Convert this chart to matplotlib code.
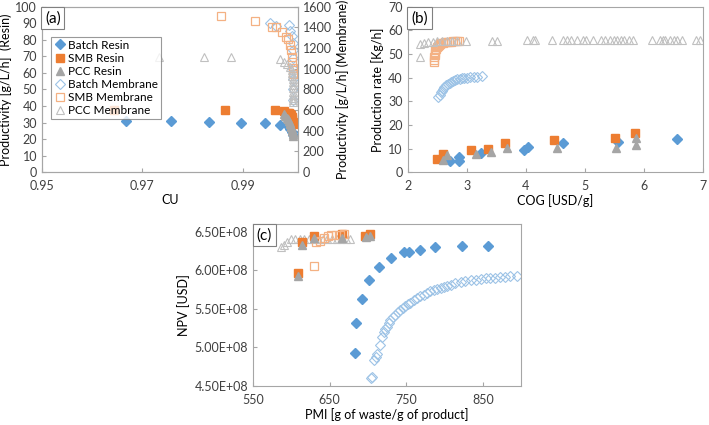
import numpy as np
import matplotlib.pyplot as plt
from matplotlib.ticker import FormatStrFormatter

plt.rcParams['font.family'] = ['Lato', 'DejaVu Sans']
plt.rcParams['font.size'] = 8

BLUE = '#5b9bd5'
ORANGE = '#ed7d31'
GRAY = '#a5a5a5'
LBLUE = '#9dc3e6'
LORANGE = '#f4b183'
LGRAY = '#c0c0c0'
EDGE = '#a6a6a6'

# ---- (a) CU vs productivity ----
a_batch_resin_x = [0.96675, 0.97564, 0.98336, 0.9896, 0.99439, 0.99752, 0.99897, 0.9995, 0.9998, 1.0]
a_batch_resin_y = [31.2, 30.8, 30.4, 29.8, 29.6, 28.8, 27.8, 26.0, 24.0, 22.5]
a_smb_resin_x = [0.96436, 0.98641, 0.99638, 0.99825, 0.9990, 0.9993, 0.9995, 0.9997, 0.9998, 0.9999, 1.0, 1.0]
a_smb_resin_y = [37.7, 37.3, 37.3, 36.7, 36.0, 35.5, 35.0, 34.5, 33.5, 32.0, 30.5, 29.0]
a_pcc_resin_x = [0.9982, 0.9985, 0.9988, 0.9990, 0.9992, 0.9994, 0.9995, 0.9996, 0.9997, 0.9998,
                 0.9999, 0.99995, 1.0, 1.0]
a_pcc_resin_y = [35, 34, 33, 32, 31, 30, 29, 28, 27, 26, 25, 24, 23, 22]
a_batch_mem_x = [0.99539, 0.99672, 0.99925, 0.99951, 0.99991, 1.0, 1.0, 1.0, 1.0, 1.0, 1.0, 1.0]
a_batch_mem_y = [1442, 1416, 1422, 1367, 1322, 1250, 1180, 1100, 1000, 900, 800, 700]
a_smb_mem_x = [0.98569, 0.99239, 0.99592, 0.99658, 0.99786, 0.99872, 0.99898, 0.99938, 0.99966,
               0.99986, 0.99992, 0.99996, 1.0]
a_smb_mem_y = [1510, 1461, 1406, 1400, 1352, 1303, 1284, 1235, 1181, 1116, 1068, 1003, 950]
a_pcc_mem_x = [0.97339, 0.9823, 0.98761, 0.99738, 0.99818, 0.99885, 0.99937, 0.9998, 0.9999,
               0.9999, 1.0, 1.0, 1.0, 1.0, 1.0, 1.0, 1.0, 1.0, 1.0]
a_pcc_mem_y = [1110, 1110, 1110, 1094, 1065, 1042, 1019, 990, 960, 930, 900, 870, 840, 810, 780,
               750, 720, 700, 680]

# ---- (b) COG vs production rate ----
b_batch_resin_x = [2.72, 2.87, 2.87, 3.24, 3.97, 4.03, 4.63, 5.55, 6.55]
b_batch_resin_y = [4.7, 6.5, 4.7, 8.2, 9.3, 10.5, 12.2, 12.9, 14.1]
b_smb_resin_x = [2.49, 2.59, 3.07, 3.36, 3.64, 4.48, 5.50, 5.85]
b_smb_resin_y = [5.4, 7.6, 9.3, 9.6, 12.4, 13.6, 14.3, 16.7]
b_pcc_resin_x = [2.60, 2.66, 3.15, 3.41, 3.68, 4.53, 5.53, 5.86, 5.86]
b_pcc_resin_y = [5.1, 7.1, 7.6, 8.6, 10.4, 10.4, 10.4, 11.3, 14.4]
b_batch_mem_x = [2.52, 2.54, 2.56, 2.58, 2.60, 2.62, 2.65, 2.68, 2.71, 2.74, 2.77, 2.80, 2.84,
                 2.88, 2.92, 2.96, 3.01, 3.06, 3.12, 3.18, 3.25]
b_batch_mem_y = [31.7, 32.8, 33.8, 34.5, 35.3, 36.0, 36.8, 37.4, 37.9, 38.3, 38.7, 39.0, 39.3,
                 39.5, 39.7, 39.9, 40.0, 40.2, 40.3, 40.4, 40.5]
b_smb_mem_x = [2.45, 2.45, 2.45, 2.46, 2.46, 2.47, 2.48, 2.49, 2.51, 2.53, 2.55, 2.57, 2.60,
               2.63, 2.66, 2.70, 2.73, 2.76, 2.80, 2.83, 2.86]
b_smb_mem_y = [46.5, 47.6, 48.6, 49.6, 50.6, 51.5, 52.2, 52.8, 53.3, 53.8, 54.2, 54.5, 54.8,
               55.0, 55.1, 55.2, 55.3, 55.4, 55.4, 55.5, 55.5]
b_pcc_mem_x = [2.20, 2.21, 2.28, 2.35, 2.42, 2.50, 2.58, 2.66, 2.75, 2.83, 2.98, 3.42, 3.51,
               4.02, 4.12, 4.16, 4.44, 4.62, 4.69, 4.77, 4.86, 4.96, 5.01, 5.13, 5.27, 5.34,
               5.42, 5.49, 5.54, 5.60, 5.66, 5.74, 5.81, 6.14, 6.27, 6.32, 6.36, 6.44, 6.50,
               6.56, 6.64, 6.88, 6.95]
b_pcc_mem_y = [48.7, 54.3, 54.8, 55.1, 55.3, 55.4, 55.5, 55.6, 55.6, 55.6, 55.7, 55.7, 55.7,
               55.8, 55.8, 55.8, 55.8, 55.8, 55.8, 55.8, 55.8, 55.8, 55.8, 55.8, 55.8, 55.8,
               55.8, 55.8, 55.8, 55.8, 55.8, 55.8, 55.8, 55.9, 55.9, 55.9, 55.9, 55.9, 55.9,
               55.9, 55.9, 55.9, 55.9]

# ---- (c) PMI vs NPV ----
c_batch_resin_x = [682.7, 684.9, 692.3, 701.9, 715.0, 729.8, 747.6, 753.3, 767.3, 787.3, 822.2, 857.0]
c_batch_resin_y = [4.925e8, 5.314e8, 5.63e8, 5.868e8, 6.045e8, 6.162e8, 6.231e8, 6.236e8,
                   6.262e8, 6.30e8, 6.314e8, 6.314e8]
c_smb_resin_x = [608.7, 614, 629, 666, 695.8, 703]
c_smb_resin_y = [5.97e8, 6.37e8, 6.44e8, 6.47e8, 6.45e8, 6.47e8]
c_pcc_resin_x = [608.0, 614, 629, 666, 697, 703]
c_pcc_resin_y = [5.93e8, 6.33e8, 6.42e8, 6.42e8, 6.43e8, 6.45e8]
c_batch_mem_x = [704.5, 705.0, 707.6, 710.0, 712.0, 715.4, 718.5, 720.6, 722.5, 725.0, 727.0,
                 729.3, 732.5, 735.9, 739.0, 742.4, 745.5, 749.0, 752.0, 755.5, 760.0, 764.2,
                 768.5, 772.9, 777.0, 781.6, 786.0, 790.4, 795.0, 799.0, 803.5, 807.8, 814.0,
                 820.9, 827.0, 834.0, 840.5, 847.0, 853.5, 860.0, 866.5, 873.0, 879.5, 886.0, 895.0]
c_batch_mem_y = [4.60e8, 4.61e8, 4.84e8, 4.88e8, 4.92e8, 5.03e8, 5.14e8, 5.205e8, 5.24e8,
                 5.27e8, 5.31e8, 5.357e8, 5.39e8, 5.42e8, 5.455e8, 5.487e8, 5.515e8, 5.54e8,
                 5.56e8, 5.58e8, 5.61e8, 5.64e8, 5.66e8, 5.68e8, 5.70e8, 5.725e8, 5.74e8,
                 5.755e8, 5.77e8, 5.78e8, 5.795e8, 5.81e8, 5.83e8, 5.85e8, 5.86e8, 5.87e8,
                 5.878e8, 5.885e8, 5.893e8, 5.90e8, 5.905e8, 5.91e8, 5.915e8, 5.92e8, 5.93e8]
c_smb_mem_x = [630, 632, 637, 642, 648, 652, 658, 664, 669]
c_smb_mem_y = [6.06e8, 6.36e8, 6.38e8, 6.42e8, 6.44e8, 6.46e8, 6.46e8, 6.46e8, 6.47e8]
c_pcc_mem_x = [586.5, 589.9, 594.3, 599.5, 605, 611, 617, 623, 629, 635, 641, 647, 653, 659,
               665, 671, 677]
c_pcc_mem_y = [6.30e8, 6.33e8, 6.36e8, 6.40e8, 6.40e8, 6.40e8, 6.40e8, 6.40e8, 6.40e8, 6.40e8,
               6.40e8, 6.40e8, 6.40e8, 6.40e8, 6.40e8, 6.40e8, 6.40e8]


def style(ax):
    for s in ax.spines.values():
        s.set_color(EDGE)
        s.set_linewidth(0.8)
    ax.tick_params(direction='in', length=3, color=EDGE, labelsize=9, labelcolor='#404040')
    ax.tick_params(axis='x', pad=6)


def resin(ax, x, y, kind, **kw):
    if kind == 'batch':
        return ax.plot(x, y, 'D', ms=5, color=BLUE, mec=BLUE, ls='none', **kw)[0]
    if kind == 'smb':
        return ax.plot(x, y, 's', ms=6, color=ORANGE, mec=ORANGE, ls='none', **kw)[0]
    return ax.plot(x, y, '^', ms=6, color=GRAY, mec=GRAY, ls='none', **kw)[0]


def membrane(ax, x, y, kind, **kw):
    if kind == 'batch':
        return ax.plot(x, y, 'D', ms=5, mfc='none', mec=LBLUE, mew=0.8, ls='none', **kw)[0]
    if kind == 'smb':
        return ax.plot(x, y, 's', ms=6, mfc='none', mec=LORANGE, mew=0.9, ls='none', **kw)[0]
    return ax.plot(x, y, '^', ms=6, mfc='none', mec=LGRAY, mew=0.8, ls='none', **kw)[0]


def panel_tag(ax, txt):
    ax.text(0.012, 0.975, txt, transform=ax.transAxes, ha='left', va='top', fontsize=11,
            bbox=dict(boxstyle='square,pad=0.25', fc='white', ec='#808080', lw=0.8), zorder=10)


fig = plt.figure(figsize=(7.09, 4.25), dpi=100)

# (a)
axa = fig.add_axes([0.059, 0.595, 0.361, 0.389])
axa2 = axa.twinx()
h1 = resin(axa, a_batch_resin_x, a_batch_resin_y, 'batch', label='Batch Resin')
h2 = resin(axa, a_smb_resin_x, a_smb_resin_y, 'smb', label='SMB Resin')
h3 = resin(axa, a_pcc_resin_x, a_pcc_resin_y, 'pcc', label='PCC Resin')
h4 = membrane(axa2, a_batch_mem_x, a_batch_mem_y, 'batch', label='Batch Membrane')
h5 = membrane(axa2, a_smb_mem_x, a_smb_mem_y, 'smb', label='SMB Membrane')
h6 = membrane(axa2, a_pcc_mem_x, a_pcc_mem_y, 'pcc', label='PCC Membrane')
axa.set_xlim(0.95, 1.001)
axa.set_xticks([0.95, 0.97, 0.99])
axa.set_ylim(0, 100)
axa.set_yticks(np.arange(0, 101, 10))
axa2.set_ylim(0, 1600)
axa2.set_yticks(np.arange(0, 1601, 200))
axa.set_xlabel('CU', fontsize=9, labelpad=1)
axa.set_ylabel('Productivity [g/L/h]  (Resin)', fontsize=9, labelpad=2)
axa2.set_ylabel('Productivity [g/L/h] (Membrane)', fontsize=9, labelpad=3)
style(axa)
style(axa2)
axa.set_zorder(axa2.get_zorder() + 1)
axa.patch.set_visible(False)
leg = axa.legend(handles=[h1, h2, h3, h4, h5, h6], loc='upper left', bbox_to_anchor=(0.035, 0.82),
                 fontsize=8.5, frameon=True, fancybox=False, edgecolor='#808080',
                 handletextpad=0.2, borderpad=0.25, labelspacing=0.18, handlelength=1.0,
                 borderaxespad=0)
leg.get_frame().set_linewidth(0.8)
panel_tag(axa, '(a)')

# (b)
axb = fig.add_axes([0.575, 0.595, 0.417, 0.389])
resin(axb, b_batch_resin_x, b_batch_resin_y, 'batch')
resin(axb, b_smb_resin_x, b_smb_resin_y, 'smb')
resin(axb, b_pcc_resin_x, b_pcc_resin_y, 'pcc')
membrane(axb, b_batch_mem_x, b_batch_mem_y, 'batch')
membrane(axb, b_smb_mem_x, b_smb_mem_y, 'smb')
membrane(axb, b_pcc_mem_x, b_pcc_mem_y, 'pcc')
axb.set_xlim(2, 7)
axb.set_ylim(0, 70)
axb.set_yticks(np.arange(0, 71, 10))
axb.set_xlabel('COG [USD/g]', fontsize=9, labelpad=1)
axb.set_ylabel('Production rate [Kg/h]', fontsize=9, labelpad=3)
style(axb)
panel_tag(axb, '(b)')

# (c)
axc = fig.add_axes([0.357, 0.092, 0.378, 0.381])
membrane(axc, c_batch_mem_x, c_batch_mem_y, 'batch')
membrane(axc, c_pcc_mem_x, c_pcc_mem_y, 'pcc')
resin(axc, c_batch_resin_x, c_batch_resin_y, 'batch')
resin(axc, c_smb_resin_x, c_smb_resin_y, 'smb')
resin(axc, c_pcc_resin_x, c_pcc_resin_y, 'pcc', zorder=3)
membrane(axc, c_smb_mem_x, c_smb_mem_y, 'smb')
axc.set_xlim(550, 900)
axc.set_xticks([550, 650, 750, 850])
axc.set_ylim(4.5e8, 6.6e8)
axc.set_yticks([4.5e8, 5.0e8, 5.5e8, 6.0e8, 6.5e8])
axc.yaxis.set_major_formatter(FormatStrFormatter('%.2E'))
axc.set_xlabel('PMI [g of waste/g of product]', fontsize=9, labelpad=1)
axc.set_ylabel('NPV [USD]', fontsize=9, labelpad=3)
style(axc)
panel_tag(axc, '(c)')

fig.savefig('out.png', dpi=100)
